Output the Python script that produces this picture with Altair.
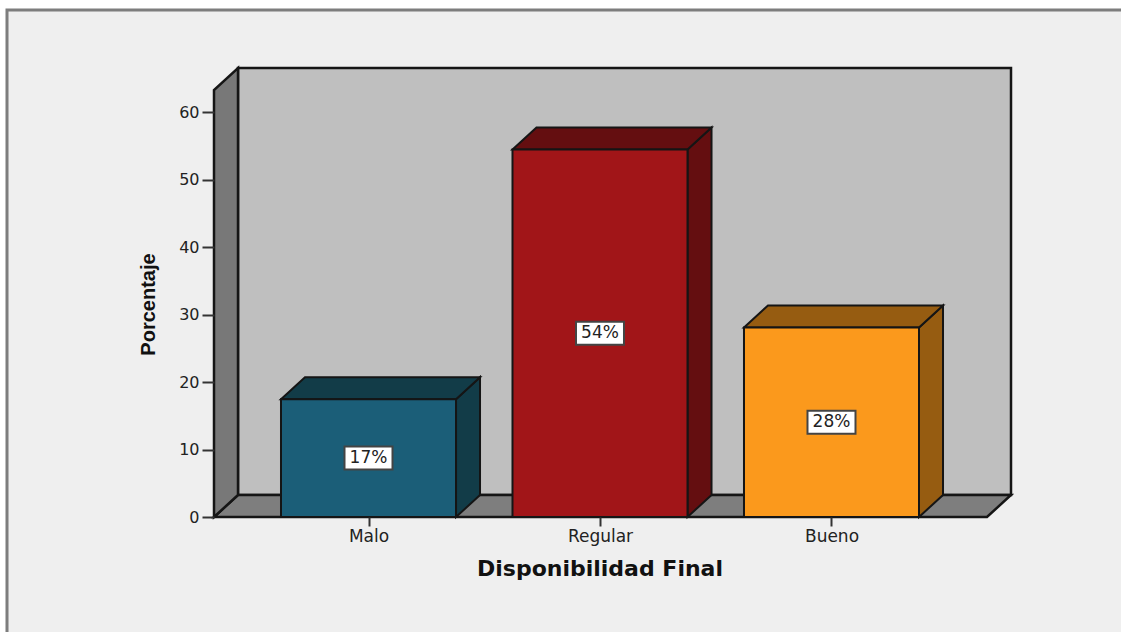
import altair as alt
import pandas as pd

# Percentages per category
categories = ["Malo", "Regular", "Bueno"]
percentages = [17.46, 54.46, 28.08]
front_colors = ["#1b5e78", "#a11518", "#fb991c"]
shade_colors = ["#123c48", "#640e10", "#965c11"]
y_ticks = [0, 10, 20, 30, 40, 50, 60]

# Extent of the pseudo-3D box, in data units
X_MIN, X_MAX = -0.6674, 2.7754
Y_TOP = 66.52
DEPTH_X, DEPTH_Y = 0.1037, 3.26
HALF_BAR = 0.378

LINE = "#151515"
LABEL_FONT = "DejaVu Sans"

x_scale = alt.Scale(domain=[X_MIN, X_MAX], nice=False, zero=False)
y_scale = alt.Scale(domain=[0, Y_TOP], nice=False, zero=False)

x_axis = alt.Axis(
    title="Disponibilidad Final", values=[0, 1, 2],
    labelExpr="['Malo', 'Regular', 'Bueno'][datum.value]",
    domain=False, grid=False, zindex=1,
    tickSize=9, tickWidth=2, tickColor="#333333", labelPadding=2,
    labelFont=LABEL_FONT, labelFontSize=17, labelColor="#222222",
    titleFont=LABEL_FONT, titleFontSize=22, titleFontWeight="bold", titleColor="#111111",
    titleX=385.5, titleY=51, titleAlign="center", titleBaseline="middle",
)
y_axis = alt.Axis(
    title="Porcentaje", values=y_ticks,
    domain=False, grid=False, zindex=1,
    tickSize=12, tickWidth=2, tickColor="#333333", labelPadding=3,
    labelFont=LABEL_FONT, labelFontSize=16, labelColor="#222222",
    titleFont="Liberation Sans", titleFontSize=20, titleFontWeight="bold", titleColor="#111111",
    titleX=-66, titleY=236, titleAngle=270, titleAlign="center", titleBaseline="middle",
)

xq = alt.X("x:Q", scale=x_scale, axis=x_axis)
yq = alt.Y("y:Q", scale=y_scale, axis=y_axis)
x2 = alt.X2("x2:Q")
y2 = alt.Y2("y2:Q")
fill = alt.Color("fill:N", scale=None, legend=None)

# Surrounding panel with its grey frame, running off the canvas on the right and bottom
panel = alt.Chart(alt.Data(values=[{"p": 1}])).mark_rect(
    fill="#efefef", stroke="#7d7d7d", strokeWidth=3
).encode(
    x=alt.value(-207), x2=alt.value(940), y=alt.value(-58), y2=alt.value(600)
)

# Back wall, floor and left wall of the box
back = pd.DataFrame({"x": [X_MIN + DEPTH_X], "x2": [X_MAX], "y": [DEPTH_Y], "y2": [Y_TOP]})
back_wall = alt.Chart(back).mark_rect(
    fill="#bfbfbf", stroke=LINE, strokeWidth=2.5
).encode(x=xq, x2=x2, y=yq, y2=y2)

floor_df = pd.DataFrame({
    "y": [0, DEPTH_Y],
    "x": [X_MIN, X_MIN + DEPTH_X],
    "x2": [X_MAX - DEPTH_X, X_MAX],
})
floor = alt.Chart(floor_df).mark_area(
    orient="horizontal", fill="#7e7e7e", stroke=LINE, strokeWidth=2.5
).encode(y=yq, x=xq, x2=x2)

left_df = pd.DataFrame({
    "x": [X_MIN, X_MIN + DEPTH_X],
    "y": [0, DEPTH_Y],
    "y2": [Y_TOP - DEPTH_Y, Y_TOP],
})
left_wall = alt.Chart(left_df).mark_area(
    orient="vertical", fill="#787878", stroke=LINE, strokeWidth=2.5
).encode(x=xq, y=yq, y2=y2)

# Bars: a front face plus shaded top and side faces offset by the box depth
front_rows, top_rows, side_rows, label_rows = [], [], [], []
for i, (cat, val, fc, sc) in enumerate(zip(categories, percentages, front_colors, shade_colors)):
    lo, hi = i - HALF_BAR, i + HALF_BAR
    front_rows.append({"cat": cat, "x": lo, "x2": hi, "y": 0, "y2": val, "fill": fc})
    top_rows += [
        {"cat": cat, "y": val, "x": lo, "x2": hi, "fill": sc},
        {"cat": cat, "y": val + DEPTH_Y, "x": lo + DEPTH_X, "x2": hi + DEPTH_X, "fill": sc},
    ]
    side_rows += [
        {"cat": cat, "x": hi, "y": 0, "y2": val, "fill": sc},
        {"cat": cat, "x": hi + DEPTH_X, "y": DEPTH_Y, "y2": val + DEPTH_Y, "fill": sc},
    ]
    label_rows.append({"cat": cat, "x": i, "y": val / 2, "label": f"{val:.0f}%"})

fronts = alt.Chart(pd.DataFrame(front_rows)).mark_rect(
    stroke=LINE, strokeWidth=2
).encode(x=xq, x2=x2, y=yq, y2=y2, fill=fill)

tops = alt.Chart(pd.DataFrame(top_rows)).mark_area(
    orient="horizontal", stroke=LINE, strokeWidth=2
).encode(y=yq, x=xq, x2=x2, fill=fill, detail="cat:N")

sides = alt.Chart(pd.DataFrame(side_rows)).mark_area(
    orient="vertical", stroke=LINE, strokeWidth=2
).encode(x=xq, y=yq, y2=y2, fill=fill, detail="cat:N")

labels_df = pd.DataFrame(label_rows)
label_boxes = alt.Chart(labels_df).mark_rect(
    width=48, height=23, fill="white", stroke="#444444", strokeWidth=2
).encode(x=xq, y=yq)
label_text = alt.Chart(labels_df).mark_text(
    font=LABEL_FONT, fontSize=17, color="#222222", baseline="middle", align="center"
).encode(x=xq, y=yq, text="label:N")

chart = alt.layer(
    panel, back_wall, floor, left_wall, sides, tops, fronts, label_boxes, label_text
).properties(
    width=797, height=449,
    autosize=alt.AutoSizeParams(type="none"),
    padding={"left": 214, "top": 68, "right": 110, "bottom": 115},
    background="white",
).configure_view(stroke=None)

chart.save("out.html", embed_options={"renderer": "svg", "actions": False})
